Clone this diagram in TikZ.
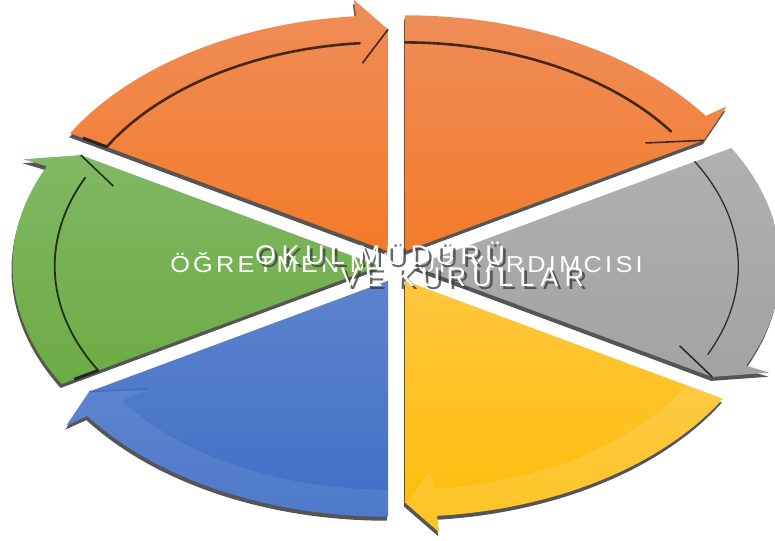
\documentclass[tikz,border=0pt]{standalone}
\usepackage{graphicx}
\usepackage{fontspec}
\setmainfont{Liberation Sans}
\newfontfamily\lblfontA[LetterSpace=20]{Liberation Sans}
\newfontfamily\lblfontB[LetterSpace=13]{Liberation Sans}
\newfontfamily\lblfontC[LetterSpace=23]{Liberation Sans}
\definecolor{orT}{RGB}{239,141,88}
\definecolor{orB}{RGB}{243,123,42}
\definecolor{grT}{RGB}{176,176,176}
\definecolor{grB}{RGB}{163,163,163}
\definecolor{yeT}{RGB}{255,198,62}
\definecolor{yeB}{RGB}{254,189,8}
\definecolor{blT}{RGB}{94,131,205}
\definecolor{blB}{RGB}{64,111,198}
\definecolor{gnT}{RGB}{129,184,100}
\definecolor{gnB}{RGB}{108,171,68}
\definecolor{shad}{RGB}{85,85,85}
\definecolor{orL}{RGB}{70,40,20}
\definecolor{grL}{RGB}{45,45,45}
\definecolor{gnL}{RGB}{30,50,20}
\def\RX{367}\def\RY{236}
% P(f,angle)
\def\Pt#1#2{({#1*\RX*cos(#2)},{#1*\RY*sin(#2)})}
\tikzset{
  segp/.style={insert path={(0,0) -- \Pt{1}{\sA}
      arc[start angle=\sA, end angle=\bA, x radius=\RX, y radius=\RY]
      -- \Pt{1.07}{\bA} -- \Pt{0.94}{\eA} -- cycle}},
  lbl/.style={text=white, anchor=base, inner sep=0pt},
  lblsh/.style={lbl, text=black!75, opacity=0.8},
  fA/.style={font=\lblfontA\fontsize{27}{29}\selectfont},
  fB/.style={font=\lblfontB\fontsize{23}{25}\selectfont},
  fC/.style={font=\lblfontC\fontsize{27}{29}\selectfont}
}
% #1 bisector, #2 top colour, #3 bottom colour, #4 line colour, #5 line width, #6 band lightness, #7 start mark opacity
\newcommand\segmentdraw[7]{%
  \begin{scope}[shift={(396.5,274)},shift={({17*cos(#1)},{17*sin(#1)})}]
    \pgfmathsetmacro\sA{#1+30}\pgfmathsetmacro\eA{#1-30}\pgfmathsetmacro\bA{#1-25}
    \begin{scope}[shift={(-1,-4)}]
      \fill[shad, segp];
    \end{scope}
    \shade[top color=#2, bottom color=#3, segp];
    \fill[white, opacity=#6] \Pt{1}{\sA}
      arc[start angle=\sA, end angle=\bA, x radius=\RX, y radius=\RY]
      -- \Pt{1.07}{\bA} -- \Pt{0.94}{\eA} -- \Pt{0.80}{\bA}
      -- \Pt{0.885}{\bA}
      arc[start angle=\bA, end angle=\sA, x radius=0.885*\RX, y radius=0.885*\RY] -- cycle;
    \draw[#4, line width=#5, line cap=round] \Pt{0.885}{\sA}
      arc[start angle=\sA, end angle=\bA, x radius=0.885*\RX, y radius=0.885*\RY];
    \draw[#4, line width=1.6] \Pt{0.80}{\bA} -- \Pt{0.94}{\eA};
    \draw[black!85, line width=3, opacity=#7] \Pt{0.885}{\sA} -- \Pt{0.96}{\sA};
  \end{scope}}
\begin{document}
\begin{tikzpicture}[x=1pt,y=1pt]
\useasboundingbox (0,0) rectangle (775,540);
\segmentdraw{120}{orT}{orB}{orL}{2.6}{0}{1}
\segmentdraw{60}{orT}{orB}{orL}{2.6}{0}{0}
\segmentdraw{0}{grT}{grB}{grL}{1.3}{0}{0}
\segmentdraw{-60}{yeT}{yeB}{yeB}{0.01}{0.12}{0}
\segmentdraw{-120}{blT}{blB}{blB}{0.01}{0.08}{0}
\segmentdraw{180}{gnT}{gnB}{gnL}{1.8}{0}{1}
% labels
\node[lbl, fB] (t2) at (406.5,267) {\scalebox{1.1}[1]{ÖĞRETMEN MÜDÜR YARDIMCISI}};
\node[lblsh, fA] (t1s) at (383,272) {OKUL MÜDÜRÜ};
\node[lbl, fA] (t1) at (380,275) {OKUL MÜDÜRÜ};
\node[lblsh, fC] (t3s) at (465.5,250) {VE KURULLAR};
\node[lbl, fC] (t3) at (462.5,253) {VE KURULLAR};
\end{tikzpicture}
\end{document}
